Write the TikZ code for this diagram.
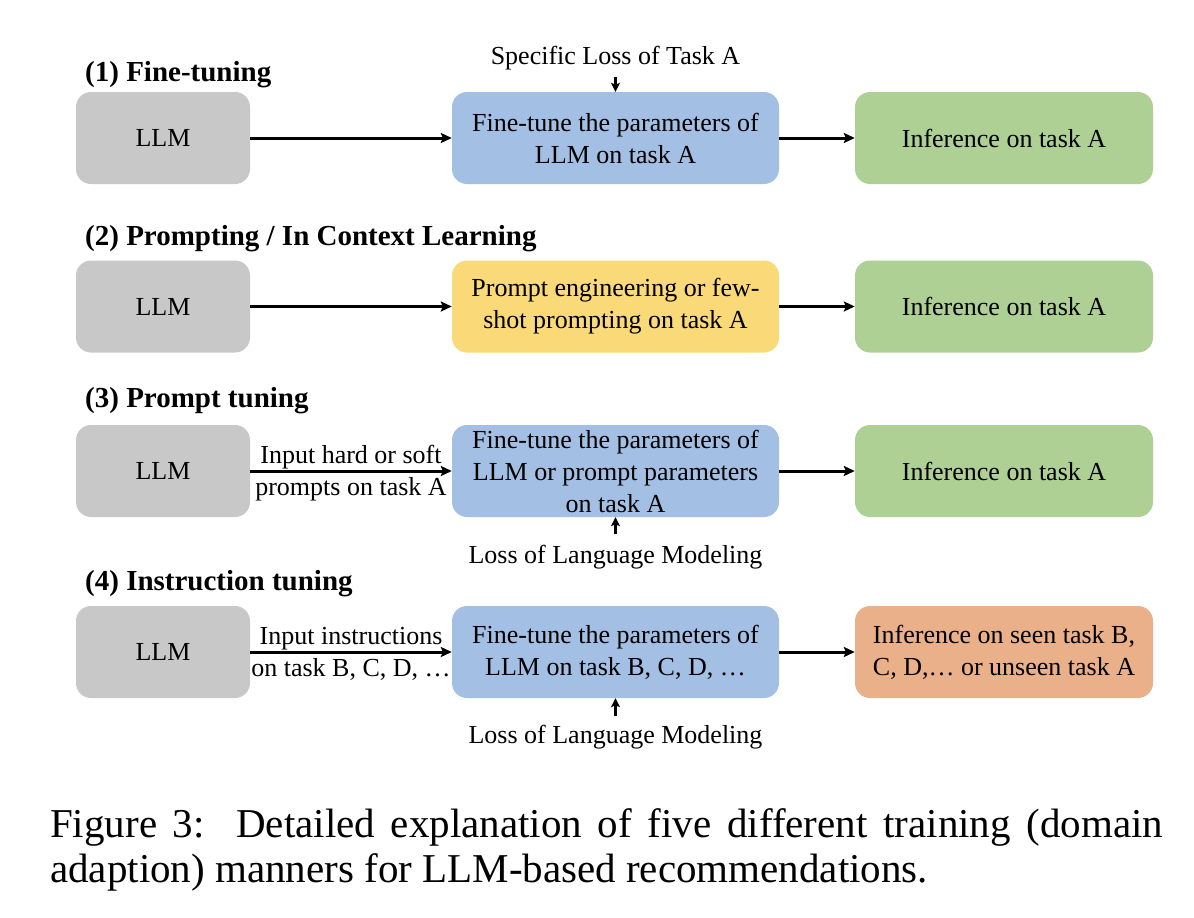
\documentclass[tikz,border=0pt]{standalone}
\usepackage{fontspec}
\setmainfont{Liberation Serif}
\usetikzlibrary{arrows.meta}
\definecolor{cgray}{HTML}{C8C8C8}
\definecolor{cblue}{HTML}{A3BFE3}
\definecolor{cgreen}{HTML}{AFD095}
\definecolor{cyellow}{HTML}{F9D978}
\definecolor{corange}{HTML}{EAB08A}
\begin{document}
\begin{tikzpicture}[x=1pt,y=-1pt,
  box/.style={rounded corners=15pt, inner sep=0pt, minimum height=92pt, align=center,
    font=\fontsize{26}{32}\selectfont},
  llm/.style={box, fill=cgray, minimum width=174pt},
  mid/.style={box, fill=cblue, minimum width=327pt},
  res/.style={box, fill=cgreen, minimum width=298pt},
  ttl/.style={anchor=west, inner sep=0pt, font=\fontsize{29}{34}\selectfont\bfseries},
  lbl/.style={inner sep=0pt, font=\fontsize{26}{32}\selectfont},
  arr/.style={line width=3pt, -{Stealth[length=11pt,width=10pt,inset=2pt]}},
  sarr/.style={line width=3pt, -{Stealth[length=9pt,width=9pt,inset=2pt]}}
]
\useasboundingbox (0,0) rectangle (1194,918);

% Row 1
\node[ttl] (t1) at (85,75) {(1) Fine-tuning};
\node[llm] (l1) at (163,138) {LLM};
\node[mid] (m1) at (615.5,138) {Fine-tune the parameters of\\LLM on task A};
\node[res] (r1) at (1004,138) {Inference on task A};
\node[lbl] (s1) at (615.5,58) {Specific Loss of Task A};
\coordinate (c1) at (615.5,77);
\draw[arr] (l1) -- (m1);
\draw[arr] (m1) -- (r1);
\draw[sarr] (c1) -- (m1.north);

% Row 2
\node[ttl] (t2) at (85,239) {(2) Prompting / In Context Learning};
\node[llm] (l2) at (163,306.5) {LLM};
\node[mid, fill=cyellow] (m2) at (615.5,306.5) {Prompt engineering or few-\\shot prompting on task A};
\node[res] (r2) at (1004,306.5) {Inference on task A};
\draw[arr] (l2) -- (m2);
\draw[arr] (m2) -- (r2);

% Row 3
\node[ttl] (t3) at (85,401) {(3) Prompt tuning};
\node[llm] (l3) at (163,471) {LLM};
\node[mid] (m3) at (615.5,471) {Fine-tune the parameters of\\LLM or prompt parameters\\on task A};
\node[res] (r3) at (1004,471) {Inference on task A};
\draw[arr] (l3) -- node[lbl, above=0pt] {Input hard or soft} node[lbl, below=5pt] {prompts on task A} (m3);
\draw[arr] (m3) -- (r3);
\node[lbl] (s3) at (615.5,557) {Loss of Language Modeling};
\coordinate (c3) at (615.5,534);
\draw[sarr] (c3) -- (m3.south);

% Row 4
\node[ttl] (t4) at (85,584) {(4) Instruction tuning};
\node[llm] (l4) at (163,652) {LLM};
\node[mid] (m4) at (615.5,652) {Fine-tune the parameters of\\LLM on task B, C, D, …};
\node[res, fill=corange] (r4) at (1004,652) {Inference on seen task B,\\C, D,… or unseen task A};
\draw[arr] (l4) -- node[lbl, above=0pt] {Input instructions} node[lbl, below=5pt] {on task B, C, D, …} (m4);
\draw[arr] (m4) -- (r4);
\node[lbl] (s4) at (615.5,737) {Loss of Language Modeling};
\coordinate (c4) at (615.5,716);
\draw[sarr] (c4) -- (m4.south);

% Caption
\node[anchor=north west, inner sep=0pt, text width=1113pt, align=justify,
  font=\fontsize{41}{45}\selectfont] (cap) at (50,808)
  {Figure 3:\ \ Detailed explanation of five different training (domain\linebreak adaption) manners for LLM-based recommendations.};
\end{tikzpicture}
\end{document}
